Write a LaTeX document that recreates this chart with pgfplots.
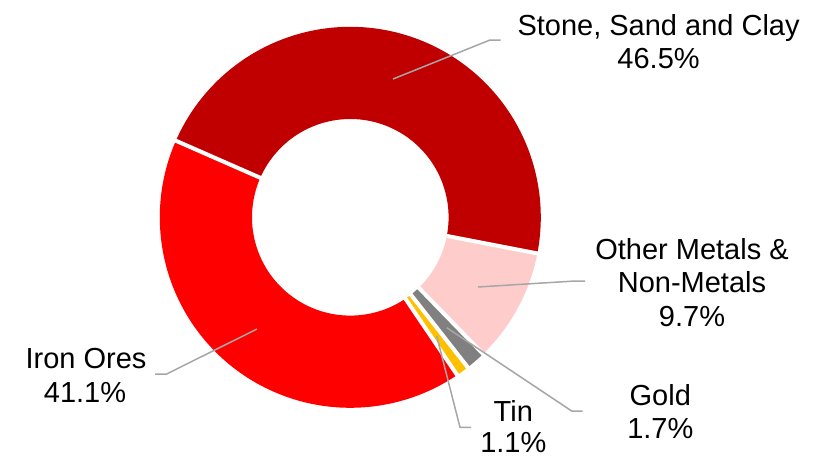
\documentclass[border=0pt]{standalone}
\usepackage{pgfplots}
\pgfplotsset{compat=1.18}
\usepackage{fontspec}
\setmainfont{Liberation Sans}
\definecolor{cStone}{HTML}{C00000}
\definecolor{cIron}{HTML}{FF0000}
\definecolor{cOther}{HTML}{FFCCCC}
\definecolor{cGold}{HTML}{808080}
\definecolor{cTin}{HTML}{FFC000}
\definecolor{cLead}{HTML}{A6A6A6}
% data (percent)
\def\vStone{46.5}
\def\vOther{9.7}
\def\vGold{1.7}
\def\vTin{1.1}
\def\vIron{41.1}
\pgfmathsetmacro\dtotal{\vStone+\vOther+\vGold+\vTin+\vIron}
\pgfmathsetmacro\degper{360/\dtotal}
% boundary angles, clockwise from the start of the first slice
\pgfmathsetmacro\sA{156.3}
\pgfmathsetmacro\sB{\sA-\vStone*\degper}
\pgfmathsetmacro\sC{\sB-\vOther*\degper}
\pgfmathsetmacro\sD{\sC-\vGold*\degper}
\pgfmathsetmacro\sE{\sD-\vTin*\degper}
\pgfmathsetmacro\sF{\sE-\vIron*\degper}
\def\cx{350.3}
\def\cy{217.3}
\def\rmid{144.4}
\tikzset{lbl/.style={font=\fontsize{29}{33.5}\selectfont, anchor=base, inner sep=0pt, text=black},
  leader/.style={cLead, line width=1.5pt}}
\begin{document}
\begin{tikzpicture}
\begin{axis}[width=815pt, height=458pt, scale only axis,
  xmin=0, xmax=815, ymin=0, ymax=458, y dir=reverse,
  axis lines=none, clip=false]
% ring slices
\addplot[cStone, line width=92.2pt, domain=\sB:\sA, samples=120] ({\cx+\rmid*cos(x)}, {\cy-\rmid*sin(x)});
\addplot[cOther, line width=92.2pt, domain=\sC:\sB, samples=40] ({\cx+\rmid*cos(x)}, {\cy-\rmid*sin(x)});
\addplot[cGold, line width=92.2pt, domain=\sD:\sC, samples=10] ({\cx+\rmid*cos(x)}, {\cy-\rmid*sin(x)});
\addplot[cTin, line width=92.2pt, domain=\sE:\sD, samples=10] ({\cx+\rmid*cos(x)}, {\cy-\rmid*sin(x)});
\addplot[cIron, line width=92.2pt, domain=\sF:\sE, samples=120] ({\cx+\rmid*cos(x)}, {\cy-\rmid*sin(x)});
% white separators
\addplot[white, line width=4pt, domain=95:194, samples=2] ({\cx+x*cos(\sA)}, {\cy-x*sin(\sA)});
\addplot[white, line width=4pt, domain=95:194, samples=2] ({\cx+x*cos(\sB)}, {\cy-x*sin(\sB)});
\addplot[white, line width=4pt, domain=95:194, samples=2] ({\cx+x*cos(\sC)}, {\cy-x*sin(\sC)});
\addplot[white, line width=4pt, domain=95:194, samples=2] ({\cx+x*cos(\sD)}, {\cy-x*sin(\sD)});
\addplot[white, line width=4pt, domain=95:194, samples=2] ({\cx+x*cos(\sE)}, {\cy-x*sin(\sE)});
% leader lines
\draw[leader] (393,79) -- (490,40) -- (500.7,40);
\draw[leader] (478,287) -- (575,281) -- (585,281);
\draw[leader] (446.7,327.7) -- (571.7,411) -- (582.7,411);
\draw[leader] (436.7,336) -- (460,427.3) -- (471,427.3);
\draw[leader] (257,329) -- (166.7,374) -- (155,374);
% labels
\node[lbl] at (658.6,35) {Stone, Sand and Clay};
\node[lbl] at (658.6,68.3) {46.5\%};
\node[lbl] at (692,259) {Other Metals \&};
\node[lbl] at (692,292) {Non-Metals};
\node[lbl] at (692,326) {9.7\%};
\node[lbl] at (660.3,405) {Gold};
\node[lbl] at (660.3,438) {1.7\%};
\node[lbl] at (513.3,421) {Tin};
\node[lbl] at (513.3,452.5) {1.1\%};
\node[lbl] at (86,368) {Iron Ores};
\node[lbl] at (85,402) {41.1\%};
\end{axis}
\pgfresetboundingbox
\path (current axis.south west) rectangle (current axis.north east);
\end{tikzpicture}
\end{document}
